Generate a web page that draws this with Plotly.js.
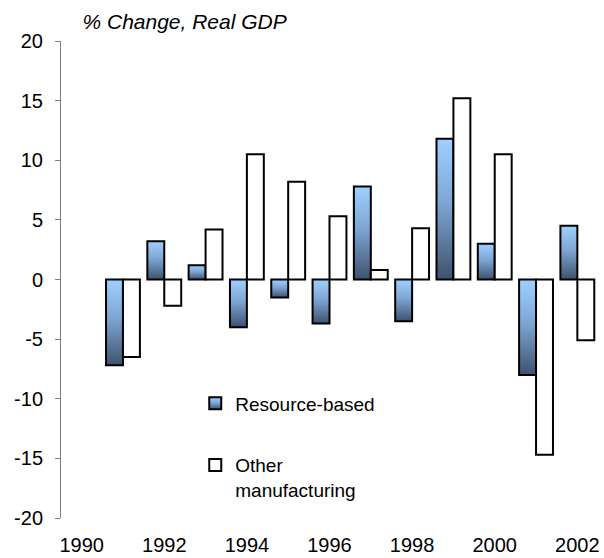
<!DOCTYPE html>
<html>
<head>
<meta charset="utf-8">
<script src="https://cdn.plot.ly/plotly-3.0.1.min.js"></script>
<style>
  html, body { margin: 0; padding: 0; background: #fff; }
  #chart { width: 604px; height: 558px; }
</style>
</head>
<body>
<div id="chart"></div>
<script>
// data
var years = [1991, 1992, 1993, 1994, 1995, 1996, 1997, 1998, 1999, 2000, 2001, 2002];
var resourceBased = [-7.2, 3.2, 1.2, -4.0, -1.5, -3.7, 7.8, -3.5, 11.8, 3.0, -8.0, 4.5];
var otherManufacturing = [-6.5, -2.2, 4.2, 10.5, 8.2, 5.3, 0.8, 4.3, 15.2, 10.5, -14.7, -5.1];

var xTickVals = [1990, 1992, 1994, 1996, 1998, 2000, 2002];
var yTickVals = [-20, -15, -10, -5, 0, 5, 10, 15, 20];
var yTickText = ['-20', '-15', '-10', '-5', '0', '5', '10', '15', '20'];

var font = 'Liberation Sans, Arial, sans-serif';

var resTrace = {
  x: years,
  y: resourceBased,
  name: 'Resource-based',
  type: 'bar',
  legendgroup: 'a',
  marker: {color: '#6d8fb8', line: {color: '#000', width: 2}}
};

var otherTrace = {
  x: years,
  y: otherManufacturing,
  name: 'Other<br>manufacturing',
  type: 'bar',
  legendgroup: 'b',
  marker: {color: '#fff', line: {color: '#000', width: 2}}
};

var layout = {
  width: 604,
  height: 558,
  margin: {l: 61, r: 6, t: 41, b: 40},
  paper_bgcolor: '#fff',
  plot_bgcolor: '#fff',
  font: {family: font, size: 19, color: '#000'},
  barmode: 'group',
  bargap: 0.18,
  bargroupgap: 0,
  showlegend: true,
  title: {
    text: '% Change, Real GDP',
    font: {family: font, size: 21, style: 'italic', color: '#000'},
    xref: 'paper', x: 0.04, xanchor: 'left',
    yref: 'container', y: 0.962, yanchor: 'middle'
  },
  legend: {
    x: 0.25, xanchor: 'left',
    y: 0.28, yanchor: 'top',
    bgcolor: 'rgba(0,0,0,0)',
    font: {family: font, size: 19},
    tracegroupgap: 34,
    valign: 'top'
  },
  xaxis: {
    type: 'linear',
    range: [1989.5, 2002.5],
    tickvals: xTickVals,
    ticks: '',
    showline: false,
    showgrid: false,
    zeroline: false,
    ticklabelstandoff: 13,
    tickfont: {family: font, size: 20}
  },
  xaxis2: {
    type: 'linear',
    overlaying: 'x',
    anchor: 'free',
    position: 0.5,
    side: 'bottom',
    range: [1989.5, 2002.5],
    tick0: 1990.5,
    dtick: 1,
    ticks: 'outside',
    ticklen: 5,
    tickcolor: '#808080',
    showticklabels: false,
    showline: true,
    linecolor: '#707070',
    linewidth: 1,
    showgrid: false,
    zeroline: false
  },
  yaxis: {
    range: [-20, 20],
    tickvals: yTickVals,
    ticktext: yTickText,
    ticks: 'outside',
    ticklen: 5,
    tickcolor: '#808080',
    showline: true,
    linecolor: '#808080',
    linewidth: 1,
    showgrid: false,
    zeroline: false,
    ticklabelstandoff: 8,
    tickfont: {family: font, size: 20}
  }
};

Plotly.newPlot('chart', [resTrace, otherTrace], layout, {staticPlot: true}).then(function (gd) {
  // vertical light-to-dark fill on the resource bars, as in the original
  var svg = gd.querySelector('.main-svg');
  var defs = svg.querySelector('defs');
  var ns = 'http://www.w3.org/2000/svg';
  var grad = document.createElementNS(ns, 'linearGradient');
  grad.setAttribute('id', 'resGrad');
  grad.setAttribute('x1', '0'); grad.setAttribute('y1', '0');
  grad.setAttribute('x2', '0'); grad.setAttribute('y2', '1');
  [['0', '#9fd0ff'], ['0.45', '#7ea6d4'], ['1', '#3e526c']].forEach(function (s) {
    var st = document.createElementNS(ns, 'stop');
    st.setAttribute('offset', s[0]);
    st.setAttribute('stop-color', s[1]);
    grad.appendChild(st);
  });
  defs.appendChild(grad);
  var bars = gd.querySelectorAll('.barlayer .trace');
  bars[0].querySelectorAll('path').forEach(function (p) { p.style.fill = 'url(#resGrad)'; });
  var legendPts = gd.querySelectorAll('.legend .traces');
  legendPts[0].querySelectorAll('.legendpoints path').forEach(function (p) { p.style.fill = 'url(#resGrad)'; });
});
</script>
</body>
</html>
